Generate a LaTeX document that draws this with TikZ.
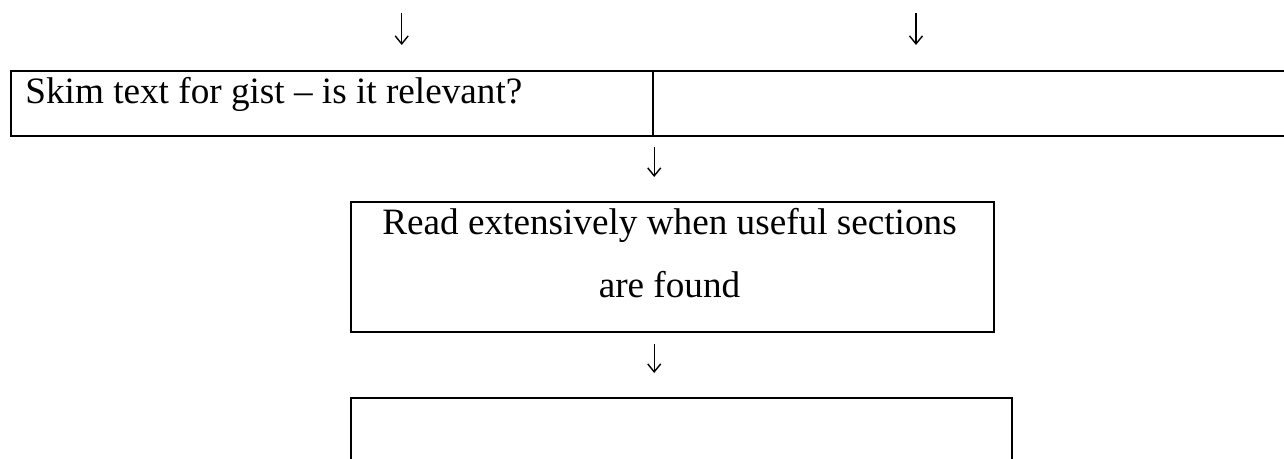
\documentclass[tikz,border=0pt]{standalone}
\usepackage{fontspec}
\setmainfont{Liberation Serif}
\usetikzlibrary{arrows.meta}
\begin{document}
\begin{tikzpicture}[x=0.5pt,y=-0.5pt,
  box/.style={draw, line width=1.1pt, rectangle, inner sep=0pt, anchor=north west},
  txt/.style={font=\fontsize{18.6pt}{23pt}\selectfont, inner sep=0pt},
  flow/.style={line width=0.6pt, -{Straight Barb[length=4pt,width=6.5pt,line width=0.7pt]}}]
\useasboundingbox (0,0) rectangle (1284,459);
\clip (0,0) rectangle (1284,459);

% boxes
\node[box, minimum width=321pt, minimum height=32.5pt] (skim) at (10,70) {};
\node[box, minimum width=324pt, minimum height=32.5pt] (blank) at (652,70) {};
\node[box, minimum width=321.5pt, minimum height=65pt] (read) at (350,201) {};
\node[box, minimum width=330.5pt, minimum height=50pt] (last) at (350,397) {};

% texts
\node[txt, anchor=base west] (skimtxt) at (25,104) {Skim text for gist – is it relevant?};
\node[txt, anchor=base] (readtxt1) at (669.5,235) {Read extensively when useful sections};
\node[txt, anchor=base] (readtxt2) at (669.5,298) {are found};

% arrows
\coordinate (in1) at (401.7,13);
\coordinate (in2) at (916,13);
\draw[flow] (in1) -- ([yshift=12.5pt]skim.north -| in1);
\draw[flow] (in2) -- ([yshift=12.5pt]blank.north -| in2);
\draw[flow] ([yshift=-5pt]skim.south east) -- ([yshift=12pt]read.north -| skim.south east);
\draw[flow] ([yshift=-5.5pt]read.south -| skim.south east) -- ([yshift=12pt]last.north -| skim.south east);
\end{tikzpicture}
\end{document}
